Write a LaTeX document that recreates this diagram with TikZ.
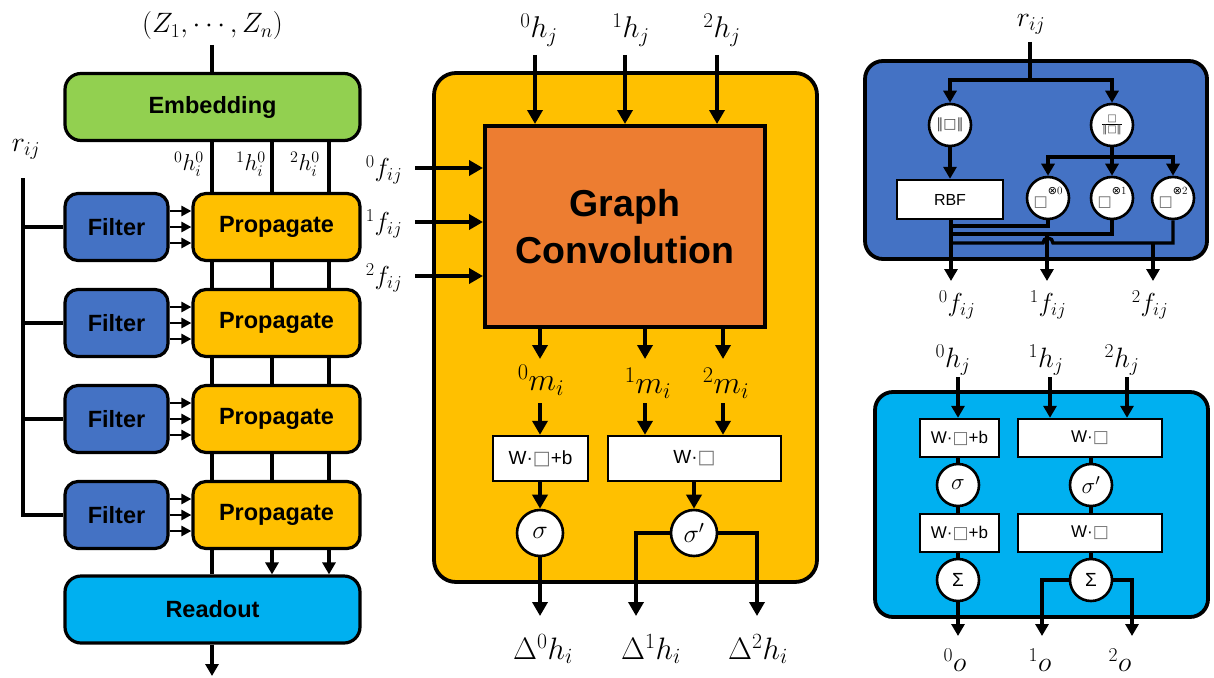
\RequirePackage{fix-cm}
\documentclass[tikz,border=0pt]{standalone}
\usepackage[no-math]{fontspec}
\newfontfamily\arial{Liberation Sans}
\newfontfamily\dvs{DejaVu Sans}
\usetikzlibrary{arrows.meta,calc}
\definecolor{embgreen}{HTML}{92D050}
\definecolor{filtblue}{HTML}{4472C4}
\definecolor{propyel}{HTML}{FFC000}
\definecolor{readcyan}{HTML}{00B0F0}
\definecolor{convorange}{HTML}{ED7D31}
\newcommand{\sq}{{\dvs\color{black!55}□}}
\newcommand{\nrmsym}{{\dvs\color{black!70}‖□‖}}
\tikzset{
  ln/.style={line width=3.4pt},
  arr/.style={line width=3.4pt,-{Triangle[length=12pt,width=13pt]}},
  barr/.style={line width=4pt,-{Triangle[length=14pt,width=15pt]}},
  sarr/.style={line width=2.8pt,-{Triangle[length=10pt,width=10pt]}},
  blk/.style={draw, line width=3.2pt, rounded corners=13pt, inner sep=0pt,
    font=\arial\bfseries\fontsize{23.5}{27}\selectfont},
  panel/.style={draw, line width=3.8pt, rounded corners=20pt},
  wbox/.style={draw, fill=white, line width=2.4pt, inner sep=0pt,
    font=\arial\fontsize{17}{20}\selectfont},
  op/.style={circle, draw, fill=white, line width=2.6pt, inner sep=0pt, minimum size=44pt},
  lab/.style={inner sep=0pt, font=\fontsize{28}{32}\selectfont},
  slab/.style={inner sep=0pt, font=\fontsize{23}{26}\selectfont},
}
\begin{document}
\begin{tikzpicture}[x=1pt,y=-1pt]
\path[use as bounding box] (0,0) rectangle (1214,677);

% ---------------- left: network overview ----------------
\node[lab] (zlab) at (212.5,26) {$(Z_1,\cdots,Z_n)$};
\node[blk, fill=embgreen, minimum width=295pt, minimum height=67pt, rounded corners=16pt] (emb) at (212.5,107) {Embedding};
\coordinate (zs) at (212,45);
\draw[ln] (zs) -- (emb.north -| zs);

\foreach \i/\y in {1/227,2/323,3/419,4/515} {
  \node[blk, fill=filtblue, minimum width=103pt, minimum height=67pt] (f\i) at (116.5,\y) {Filter};
  \node[blk, fill=propyel, minimum width=167pt, minimum height=67pt] (p\i) at (276.5,\y) {Propagate};
}
\node[blk, fill=readcyan, minimum width=295pt, minimum height=67pt, rounded corners=16pt] (ro) at (212.5,609.5) {Readout};

\coordinate (cA) at (212,0);
\coordinate (cB) at (272,0);
\coordinate (cC) at (329,0);
\foreach \c in {cA,cB,cC} {
  \draw[ln] (emb.south -| \c) -- (p1.north -| \c);
  \draw[ln] (p1.south -| \c) -- (p2.north -| \c);
  \draw[ln] (p2.south -| \c) -- (p3.north -| \c);
  \draw[ln] (p3.south -| \c) -- (p4.north -| \c);
}
\draw[ln] (p4.south -| cA) -- (ro.north -| cA);
\draw[arr] (p4.south -| cB) -- (ro.north -| cB);
\draw[arr] (p4.south -| cC) -- (ro.north -| cC);
\coordinate (rout) at (212,676);
\draw[arr] (ro.south -| cA) -- (rout);

\node[slab] (h00) at (189,164) {${}^{0}h_{i}^{0}$};
\node[slab] (h10) at (251,164) {${}^{1}h_{i}^{0}$};
\node[slab] (h20) at (305,164) {${}^{2}h_{i}^{0}$};

\foreach \i in {1,...,4} {
  \foreach \d in {-16,0,16} {
    \draw[sarr] ([yshift=\d pt]f\i.east) -- ([yshift=\d pt]p\i.west);
  }
}

\node[lab] (rlab) at (26,149) {$r_{ij}$};
\coordinate (rtop) at (23,178);
\draw[ln] (rtop) |- (f4.west);
\foreach \i in {1,2,3} { \draw[ln] (f\i.west -| rtop) -- (f\i.west); }

% ---------------- middle: interaction block ----------------
\node[panel, fill=propyel, minimum width=383pt, minimum height=509pt, rounded corners=22pt] (mid) at (625.5,327.5) {};
\node[draw, line width=4pt, fill=convorange, minimum width=280pt, minimum height=201pt, inner sep=0pt,
      align=center, font=\arial\bfseries\fontsize{37.5}{47}\selectfont] (gc) at (625,226.5) {Graph\\Convolution};

\node[lab, font=\fontsize{30}{34}\selectfont] (hj0) at (539,30) {${}^{0}h_{j}$};
\node[lab, font=\fontsize{30}{34}\selectfont] (hj1) at (631,30) {${}^{1}h_{j}$};
\node[lab, font=\fontsize{30}{34}\selectfont] (hj2) at (722,30) {${}^{2}h_{j}$};
\coordinate (t0) at (535,55);
\coordinate (t1) at (625,55);
\coordinate (t2) at (717,55);
\draw[barr] (t0) -- (gc.north -| t0);
\draw[barr] (t1) -- (gc.north -| t1);
\draw[barr] (t2) -- (gc.north -| t2);

\node[lab, font=\fontsize{26}{30}\selectfont] (fl0) at (384,170) {${}^{0}f_{ij}$};
\node[lab, font=\fontsize{26}{30}\selectfont] (fl1) at (384,224) {${}^{1}f_{ij}$};
\node[lab, font=\fontsize{26}{30}\selectfont] (fl2) at (384,278) {${}^{2}f_{ij}$};
\coordinate (fa0) at (415,168);
\coordinate (fa1) at (415,222);
\coordinate (fa2) at (415,276);
\draw[barr] (fa0) -- (gc.west |- fa0);
\draw[barr] (fa1) -- (gc.west |- fa1);
\draw[barr] (fa2) -- (gc.west |- fa2);

\coordinate (ma0) at (540,359);
\coordinate (ma1) at (645,359);
\coordinate (ma2) at (723,359);
\draw[barr] (gc.south -| ma0) -- (ma0);
\draw[barr] (gc.south -| ma1) -- (ma1);
\draw[barr] (gc.south -| ma2) -- (ma2);
\node[lab, font=\fontsize{32}{36}\selectfont] (ml0) at (541,380) {${}^{0}m_{i}$};
\node[lab, font=\fontsize{32}{36}\selectfont] (ml1) at (648,383) {${}^{1}m_{i}$};
\node[lab, font=\fontsize{32}{36}\selectfont] (ml2) at (726,383) {${}^{2}m_{i}$};

\node[wbox, minimum width=95pt, minimum height=45pt, font=\arial\fontsize{19}{22}\selectfont] (wb) at (540.5,458.5) {W·\sq+b};
\node[wbox, minimum width=173pt, minimum height=45pt, font=\arial\fontsize{19}{22}\selectfont] (w) at (694.5,458.5) {W·\sq};
\coordinate (mb0) at (540,403);
\coordinate (mb1) at (645,403);
\coordinate (mb2) at (723,403);
\draw[barr] (mb0) -- (wb.north -| mb0);
\draw[barr] (mb1) -- (w.north -| mb1);
\draw[barr] (mb2) -- (w.north -| mb2);

\node[op, minimum size=46pt, font=\fontsize{26}{28}\selectfont] (sg) at (540,533) {$\sigma$};
\node[op, minimum size=46pt, font=\fontsize{26}{28}\selectfont] (sgp) at (694,533) {$\sigma'$};
\draw[barr] (wb.south -| sg) -- (sg.north);
\draw[barr] (w.south -| sgp) -- (sgp.north);

\coordinate (d0) at (540,616);
\coordinate (d1) at (636,616);
\coordinate (d2) at (757,616);
\draw[barr] (sg.south) -- (d0);
\draw[barr] (sgp.west) -| (d1);
\draw[barr] (sgp.east) -| (d2);
\node[lab, font=\fontsize{31}{34}\selectfont] (dl0) at (543,649) {$\Delta^{0}h_{i}$};
\node[lab, font=\fontsize{31}{34}\selectfont] (dl1) at (651,649) {$\Delta^{1}h_{i}$};
\node[lab, font=\fontsize{31}{34}\selectfont] (dl2) at (758,649) {$\Delta^{2}h_{i}$};

% ---------------- right top: filter generation ----------------
\node[panel, fill=filtblue, minimum width=342pt, minimum height=198pt, rounded corners=18pt] (fb) at (1036,160) {};
\node[lab] (rlab2) at (1031,24) {$r_{ij}$};
\coordinate (jr) at (1030,80);
\coordinate (rs) at (1030,42);
\node[op, minimum size=42pt, font=\fontsize{14}{14}\selectfont] (nrm) at (950,125) {\nrmsym};
\node[op, minimum size=42pt] (dir) at (1112,125)
  {$\frac{\hbox{\dvs\fontsize{10}{10}\selectfont\color{black!70}□}}{\hbox{\dvs\fontsize{10}{10}\selectfont\color{black!70}‖□‖}}$};
\draw[ln] (rs) -- (jr);
\draw[arr] (jr) -| (nrm.north);
\draw[arr] (jr) -| (dir.north);

\node[wbox, minimum width=106pt, minimum height=39pt, font=\arial\fontsize{16}{18}\selectfont] (rbf) at (950,199.5) {RBF};
\draw[arr] (nrm.south) -- (rbf.north);

\foreach \k/\x in {0/1048,1/1112,2/1173} {
  \node[op, minimum size=42pt] (tp\k) at (\x,198)
    {\raisebox{-5pt}{\dvs\fontsize{15}{15}\selectfont\color{black!60}□}\raisebox{7pt}{\fontsize{11}{11}\selectfont{\dvs ⊗}\k}};
}
\coordinate (jd) at (1112,157);
\draw[ln] (dir.south) -- (jd);
\draw[arr] (jd) -| (tp0.north);
\draw[arr] (jd) -- (tp1.north);
\draw[arr] (jd) -| (tp2.north);

\coordinate (hb0) at (951,226);
\coordinate (hb1) at (951,234);
\coordinate (hb2) at (951,243);
\draw[ln] (tp0.south) |- (hb0);
\draw[ln] (tp1.south) |- (hb1);
\draw[ln] (tp2.south) |- (1053,243) arc[start angle=0, end angle=180, radius=5pt] -- (hb2);

\coordinate (fo0) at (951,281);
\coordinate (fo1) at (1047,281);
\coordinate (fo2) at (1153,281);
\coordinate (fs1) at (1047,234);
\coordinate (fs2) at (1153,243);
\draw[arr] (rbf.south -| fo0) -- (fo0);
\draw[arr] (fs1) -- (fo1);
\draw[arr] (fs2) -- (fo2);
\node[lab, font=\fontsize{26}{30}\selectfont] (fr0) at (957,305) {${}^{0}f_{ij}$};
\node[lab, font=\fontsize{26}{30}\selectfont] (fr1) at (1048,305) {${}^{1}f_{ij}$};
\node[lab, font=\fontsize{26}{30}\selectfont] (fr2) at (1150,305) {${}^{2}f_{ij}$};

% ---------------- right bottom: readout block ----------------
\node[panel, fill=readcyan, minimum width=333pt, minimum height=225pt, rounded corners=18pt] (rb) at (1041.5,504.5) {};
\node[lab] (oj0) at (953,360) {${}^{0}h_{j}$};
\node[lab] (oj1) at (1046,360) {${}^{1}h_{j}$};
\node[lab] (oj2) at (1122,360) {${}^{2}h_{j}$};
\coordinate (oa0) at (958,377);
\coordinate (oa1) at (1050,377);
\coordinate (oa2) at (1127,377);

\node[wbox] (a1) at (959.5,438) [minimum width=79pt, minimum height=38pt] {W·\sq+b};
\node[wbox] (b1) at (1090,438) [minimum width=144pt, minimum height=38pt] {W·\sq};
\node[wbox] (a2) at (959.5,533) [minimum width=79pt, minimum height=38pt] {W·\sq+b};
\node[wbox] (b2) at (1090,533) [minimum width=144pt, minimum height=38pt] {W·\sq};
\node[op, minimum size=42pt, font=\fontsize{23}{25}\selectfont] (s1) at (958,485) {$\sigma$};
\node[op, minimum size=42pt, font=\fontsize{23}{25}\selectfont] (s2) at (1091,485) {$\sigma'$};
\node[op, minimum size=42pt, font=\arial\fontsize{19}{22}\selectfont] (S1) at (958,580) {Σ};
\node[op, minimum size=42pt, font=\arial\fontsize{19}{22}\selectfont] (S2) at (1091,580) {Σ};

\draw[arr] (oa0) -- (a1.north -| oa0);
\draw[arr] (oa1) -- (b1.north -| oa1);
\draw[arr] (oa2) -- (b1.north -| oa2);
\draw[ln] (a1.south -| s1) -- (s1.north);
\draw[ln] (s1.south) -- (a2.north -| s1);
\draw[ln] (a2.south -| S1) -- (S1.north);
\draw[ln] (b1.south -| s2) -- (s2.north);
\draw[ln] (s2.south) -- (b2.north -| s2);
\draw[ln] (b2.south -| S2) -- (S2.north);

\coordinate (ob0) at (958,636);
\coordinate (ob1) at (1042,636);
\coordinate (ob2) at (1132,636);
\draw[arr] (S1.south) -- (ob0);
\draw[arr] (S2.west) -| (ob1);
\draw[arr] (S2.east) -| (ob2);
\node[lab] (ol0) at (955,660) {${}^{0}o$};
\node[lab] (ol1) at (1040,660) {${}^{1}o$};
\node[lab] (ol2) at (1120,660) {${}^{2}o$};
\end{tikzpicture}
\end{document}
